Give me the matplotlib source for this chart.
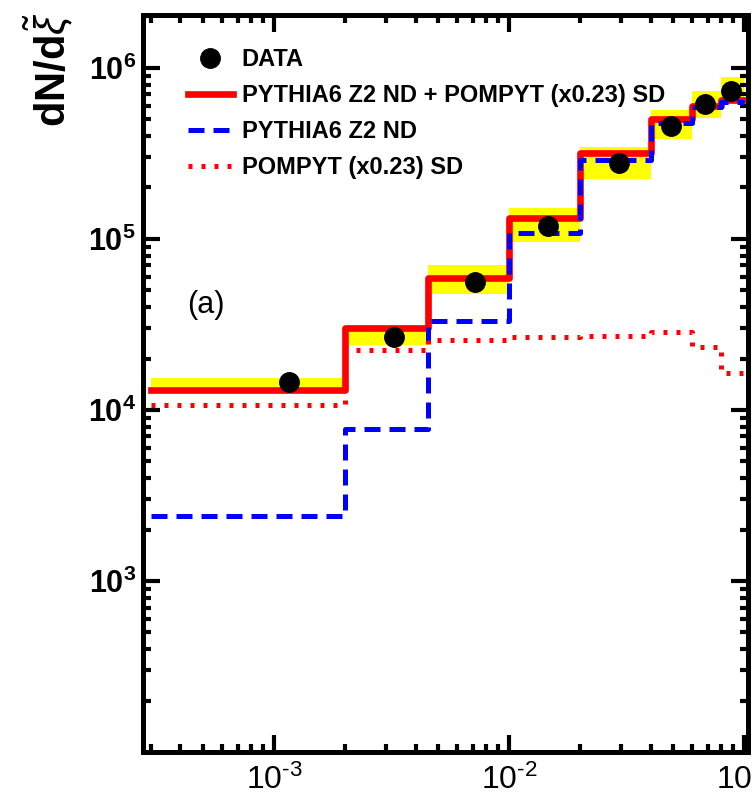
import numpy as np
import matplotlib.pyplot as plt
from matplotlib.ticker import FixedLocator, FuncFormatter, NullFormatter, LogLocator

plt.rcParams['font.family'] = 'Liberation Sans'
plt.rcParams['mathtext.fontset'] = 'custom'
plt.rcParams['mathtext.rm'] = 'Liberation Sans'
plt.rcParams['mathtext.bf'] = 'Liberation Sans:bold'
plt.rcParams['mathtext.it'] = 'Liberation Sans:italic'

# bin edges in xi-tilde
edges = [3e-4, 2e-3, 4.5e-3, 1e-2, 2e-2, 4e-2, 6e-2, 8e-2, 1e-1]

# MC predictions per bin
total = [1.31e4, 3.03e4, 5.9e4, 1.33e5, 3.18e5, 5.0e5, 6.0e5, 6.5e5]   # PYTHIA6 Z2 ND + POMPYT SD
nd = [2.4e3, 7.7e3, 3.3e4, 1.08e5, 2.9e5, 4.76e5, 5.9e5, 6.3e5]        # PYTHIA6 Z2 ND
sd = [1.07e4, 2.24e4, 2.57e4, 2.67e4, 2.72e4, 2.85e4, 2.33e4, 1.64e4]  # POMPYT (x0.23) SD

# data points and systematic band
data_x = [1.16e-3, 3.24e-3, 7.2e-3, 1.47e-2, 2.95e-2, 4.9e-2, 6.8e-2, 8.8e-2]
data_y = [1.46e4, 2.67e4, 5.6e4, 1.19e5, 2.78e5, 4.57e5, 6.16e5, 7.3e5]
band_lo = [1.36e4, 2.4e4, 4.77e4, 9.6e4, 2.24e5, 3.85e5, 5.1e5, 6.4e5]
band_hi = [1.54e4, 2.9e4, 7.05e4, 1.51e5, 3.45e5, 5.68e5, 7.3e5, 8.8e5]

fig = plt.figure(figsize=(7.53, 7.98), dpi=100)
ax = fig.add_axes([0.1899, 0.0576, 0.8035, 0.9236])

# yellow uncertainty boxes
for x0, x1, lo, hi in zip(edges[:-1], edges[1:], band_lo, band_hi):
    ax.fill_between([x0, x1], lo, hi, color='#ffff00', lw=0, zorder=1)

l_tot, = ax.step(edges, total + [total[-1]], where='post', color='red', lw=4.8, zorder=2)
l_nd, = ax.step(edges, nd + [nd[-1]], where='post', color='blue', lw=3.6,
                dashes=(3.2, 1.8), zorder=3)
l_sd, = ax.step(edges, sd + [sd[-1]], where='post', color='red', lw=3.6,
                dashes=(0.8, 1.8), zorder=3)
l_dat, = ax.plot(data_x, data_y, 'o', color='black', ms=14, zorder=5)

ax.set_xscale('log')
ax.set_yscale('log')
ax.set_xlim(2.77e-4, 0.104)
ax.set_ylim(100, 2.04e6)

ax.xaxis.set_major_locator(FixedLocator([1e-3, 1e-2, 1e-1]))
ax.xaxis.set_minor_locator(LogLocator(base=10, subs=np.arange(2, 10)))
ax.xaxis.set_major_formatter(FuncFormatter(lambda v, p: r'$10^{\text{-}%d}$' % round(-np.log10(v))))
ax.xaxis.set_minor_formatter(NullFormatter())

ax.yaxis.set_major_locator(FixedLocator([1e3, 1e4, 1e5, 1e6]))
ax.yaxis.set_minor_locator(LogLocator(base=10, subs=np.arange(2, 10)))
ax.yaxis.set_major_formatter(FuncFormatter(lambda v, p: r'$\mathbf{10^{%d}}$' % round(np.log10(v))))
ax.yaxis.set_minor_formatter(NullFormatter())

for s in ax.spines.values():
    s.set_linewidth(3.6)
ax.tick_params(which='both', direction='in', top=True, right=True, width=3)
ax.tick_params(which='major', length=12)
ax.tick_params(which='minor', length=6)
ax.tick_params(axis='x', labelsize=23, pad=9)
ax.tick_params(axis='y', labelsize=22, pad=5)

leg = ax.legend([l_dat, l_tot, l_nd, l_sd],
                ['DATA', 'PYTHIA6 Z2 ND + POMPYT (x0.23) SD', 'PYTHIA6 Z2 ND', 'POMPYT (x0.23) SD'],
                loc='upper left', bbox_to_anchor=(0.0744, 0.955), frameon=False,
                prop={'weight': 'bold', 'size': 17}, handlelength=1.9, handletextpad=0.38,
                labelspacing=0.55, borderpad=0, borderaxespad=0, numpoints=1)

ax.text(0.104, 0.6065, '(a)', transform=ax.transAxes, ha='center', va='center', fontsize=22)

fig.text(0.064, 0.985, r'$\mathbf{dN/d}\tilde{\xi}$', rotation=90, ha='center', va='top', fontsize=30)

fig.savefig('out.png', dpi=100)
